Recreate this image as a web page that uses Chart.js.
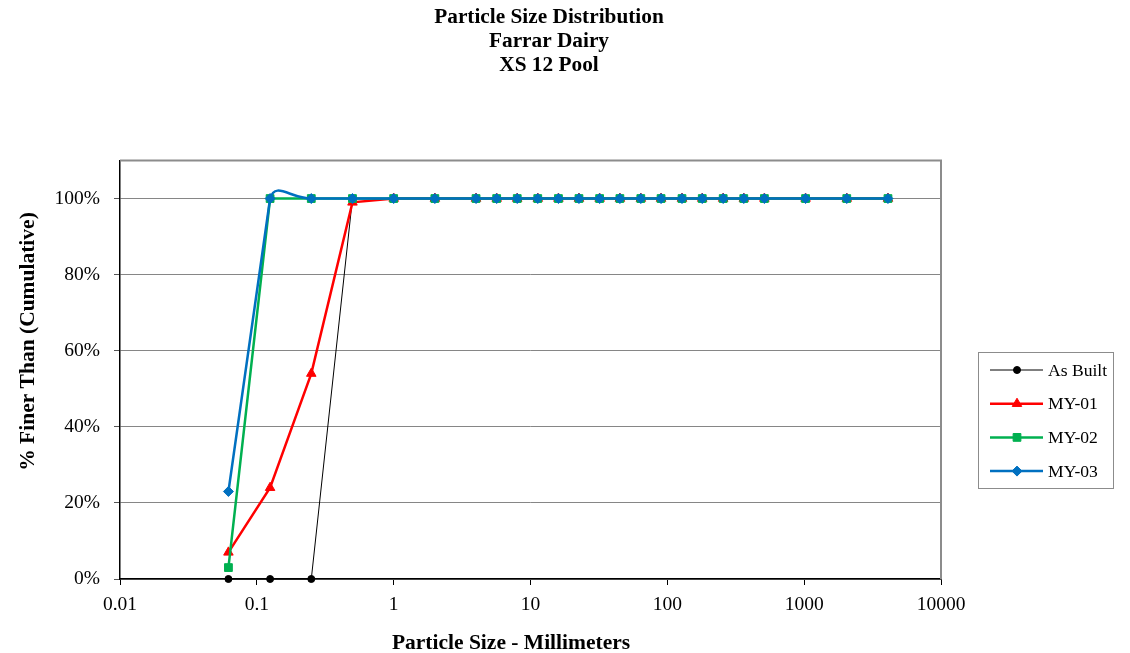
<!DOCTYPE html>
<html>
<head>
<meta charset="utf-8">
<title>Particle Size Distribution - Farrar Dairy XS 12 Pool</title>
<script src="https://cdn.jsdelivr.net/npm/chart.js@4/dist/chart.umd.min.js"></script>
<style>
  html, body { margin: 0; padding: 0; background: #fff; }
  #wrap { position: relative; width: 1130px; height: 653px; }
</style>
</head>
<body>
<div id="wrap"><canvas id="psdChart"></canvas></div>
<script>
// Sieve sizes (mm) and cumulative % finer for each sample
const sizes = [0.062, 0.125, 0.25, 0.5, 1, 2, 4, 5.66, 8, 11.3, 16, 22.6, 32, 45, 64, 90, 128, 180, 256, 362, 512, 1024, 2048, 4096];
const asBuilt = [0, 0, 0, 100, 100, 100, 100, 100, 100, 100, 100, 100, 100, 100, 100, 100, 100, 100, 100, 100, 100, 100, 100, 100];
const my01 = [7, 24, 54, 99, 100, 100, 100, 100, 100, 100, 100, 100, 100, 100, 100, 100, 100, 100, 100, 100, 100, 100, 100, 100];
const my02 = [3, 100, 100, 100, 100, 100, 100, 100, 100, 100, 100, 100, 100, 100, 100, 100, 100, 100, 100, 100, 100, 100, 100, 100];
const my03 = [23, 100, 100, 100, 100, 100, 100, 100, 100, 100, 100, 100, 100, 100, 100, 100, 100, 100, 100, 100, 100, 100, 100, 100];

const xTicks = [0.01, 0.1, 1, 10, 100, 1000, 10000];
const yTicks = [0, 20, 40, 60, 80, 100];
const titleLines = ['Particle Size Distribution', 'Farrar Dairy', 'XS 12 Pool'];
const xTitle = 'Particle Size - Millimeters';
const yTitle = '% Finer Than (Cumulative)';

const serif = "'Liberation Serif', 'Times New Roman', serif";
Chart.defaults.font.family = serif;
Chart.defaults.font.size = 19.5;
Chart.defaults.color = '#000';

function points(values) {
  return sizes.map((s, i) => ({ x: s, y: values[i] }));
}

// gray frame on top and right of the plot area
const plotFrame = {
  id: 'plotFrame',
  beforeDatasetsDraw(chart) {
    const { ctx, chartArea: a } = chart;
    ctx.save();
    ctx.strokeStyle = '#8c8c8c';
    ctx.lineWidth = 2;
    ctx.beginPath();
    ctx.moveTo(a.left, a.top);
    ctx.lineTo(a.right, a.top);
    ctx.lineTo(a.right, a.bottom);
    ctx.stroke();
    ctx.restore();
  }
};

// Excel-style smoothing: keep the first segment straight, smooth the rest
const straightStart = {
  id: 'straightStart',
  beforeDatasetDraw(chart, args) {
    const meta = args.meta;
    if (!meta.dataset || !meta.dataset.options.tension) return;
    meta.dataset.updateControlPoints(chart.chartArea, 'x');
    const pts = meta.data;
    if (pts.length < 2) return;
    const p0 = pts[0], p1 = pts[1];
    p0.cp2x = p0.x + (p1.x - p0.x) / 3;
    p0.cp2y = p0.y + (p1.y - p0.y) / 3;
    p1.cp1x = p1.x - (p1.x - p0.x) / 3;
    p1.cp1y = p1.y - (p1.y - p0.y) / 3;
  }
};

// titles placed like the spreadsheet chart
const textLayer = {
  id: 'textLayer',
  afterDraw(chart) {
    const { ctx } = chart;
    ctx.save();
    ctx.fillStyle = '#000';
    ctx.textAlign = 'center';
    ctx.textBaseline = 'alphabetic';
    ctx.font = 'bold 21.3px ' + serif;
    titleLines.forEach((t, i) => ctx.fillText(t, 549, 22.5 + i * 24));
    ctx.font = 'bold 21.5px ' + serif;
    ctx.fillText(xTitle, 511, 648.5);
    ctx.translate(33.5, 341.5);
    ctx.rotate(-Math.PI / 2);
    ctx.fillText(yTitle, 0, 0);
    ctx.restore();
  }
};

// boxed legend to the right of the plot
const boxLegend = {
  id: 'boxLegend',
  afterDraw(chart) {
    const { ctx, chartArea: a } = chart;
    const x = a.right + 37, y = 352, w = 135, h = 136;
    ctx.save();
    ctx.fillStyle = '#fff';
    ctx.fillRect(x, y, w, h);
    ctx.strokeStyle = '#8c8c8c';
    ctx.lineWidth = 1;
    ctx.strokeRect(x + 0.5, y + 0.5, w, h);
    chart.data.datasets.forEach((ds, i) => {
      const cy = y + 18 + i * 33.7;
      ctx.strokeStyle = ds.borderColor;
      ctx.lineWidth = ds.borderWidth;
      ctx.beginPath();
      ctx.moveTo(x + 12, cy);
      ctx.lineTo(x + 65, cy);
      ctx.stroke();
      ctx.fillStyle = ds.borderColor;
      ctx.lineWidth = 1;
      Chart.helpers.drawPoint(ctx, {
        pointStyle: ds.pointStyle,
        radius: ds.pointRadius,
        rotation: 0,
        borderWidth: 1
      }, x + 39, cy);
      ctx.fillStyle = '#000';
      ctx.font = '17.6px ' + serif;
      ctx.textBaseline = 'middle';
      ctx.textAlign = 'left';
      ctx.fillText(ds.label, x + 70, cy + 1);
    });
    ctx.restore();
  }
};

function series(label, values, color, width, style, radius, order, tension) {
  return {
    label: label,
    data: points(values),
    borderColor: color,
    backgroundColor: color,
    pointBackgroundColor: color,
    pointBorderColor: color,
    borderWidth: width,
    pointStyle: style,
    pointRadius: radius,
    pointHoverRadius: radius,
    pointBorderWidth: 1,
    tension: tension,
    order: order,
    clip: false
  };
}

new Chart(document.getElementById('psdChart'), {
  type: 'line',
  data: {
    datasets: [
      series('As Built', asBuilt, '#000000', 1, 'circle', 3.5, 4, 0),
      series('MY-01', my01, '#ff0000', 2.5, 'triangle', 5.5, 3, 0),
      series('MY-02', my02, '#00b050', 2.5, 'rect', 5.5, 2, 0),
      series('MY-03', my03, '#0070c0', 2.5, 'rectRot', 5, 1, 0.5)
    ]
  },
  plugins: [plotFrame, straightStart, textLayer, boxLegend],
  options: {
    responsive: true,
    maintainAspectRatio: false,
    animation: false,
    layout: {
      padding: { left: 10, right: 189, top: 160.5, bottom: 0 }
    },
    plugins: {
      legend: { display: false },
      tooltip: { enabled: false },
      title: { display: false }
    },
    scales: {
      x: {
        type: 'logarithmic',
        min: 0.01,
        max: 10000,
        afterBuildTicks(scale) {
          scale.ticks = xTicks.map(v => ({ value: v }));
        },
        afterFit(scale) {
          scale.height = 74;
        },
        ticks: {
          autoSkip: false,
          maxRotation: 0,
          padding: 8,
          callback: v => String(v)
        },
        grid: {
          drawOnChartArea: false,
          drawTicks: true,
          tickLength: 6,
          tickColor: '#000',
          color: '#000'
        },
        border: { display: true, color: '#000', width: 1.5 }
      },
      y: {
        min: 0,
        max: 110,
        afterBuildTicks(scale) {
          scale.ticks = yTicks.map(v => ({ value: v }));
        },
        afterFit(scale) {
          scale.width = 110;
        },
        ticks: {
          padding: 14,
          callback: v => v + '%'
        },
        grid: {
          color: '#868686',
          lineWidth: 1,
          tickLength: 6,
          tickColor: '#555'
        },
        border: { display: true, color: '#000', width: 1.5 }
      }
    }
  }
});
</script>
</body>
</html>
